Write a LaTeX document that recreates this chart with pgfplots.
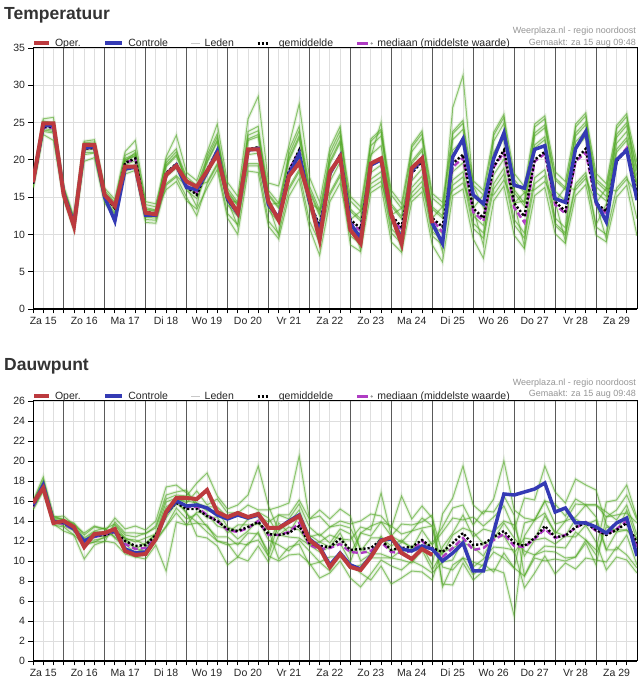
\documentclass[border=0pt]{standalone}
\usepackage{fontspec}
\setmainfont{Liberation Sans}
\usepackage{pgfplots}
\usepackage{pgfplotstable}
\pgfplotsset{compat=1.18}
\definecolor{opercol}{RGB}{188,58,62}
\definecolor{ctrlcol}{RGB}{52,58,180}
\definecolor{memcol}{RGB}{80,168,35}
\definecolor{medcol}{RGB}{175,60,195}
\definecolor{gridlight}{RGB}{222,222,222}
\definecolor{daycol}{RGB}{90,90,90}
\definecolor{txtgray}{RGB}{150,150,150}
\definecolor{titlecol}{RGB}{51,51,51}
\definecolor{ledencol}{RGB}{200,200,200}

% ---------------- Temperatuur ----------------
\pgfplotstableread{
i oper ctrl mean med
0 17.0 17.0 16.8 16.8
1 24.9 24.6 24.4 24.3
2 24.9 24.6 24.4 24.3
3 15.3 15.5 15.6 15.6
4 11.1 11.3 11.5 11.5
5 22.0 21.6 21.5 21.5
6 22.0 21.8 21.6 21.6
7 15.3 15.0 15.2 15.1
8 13.8 11.8 13.5 13.8
9 19.1 18.8 19.6 19.6
10 19.1 19.0 20.2 20.1
11 12.9 12.6 13.0 12.9
12 12.7 12.6 12.8 12.8
13 18.0 18.0 18.2 18.2
14 19.2 19.3 19.5 19.4
15 17.1 16.3 16.4 16.6
16 16.4 16.0 15.3 15.6
17 18.5 18.3 18.6 18.5
18 20.7 21.2 21.3 21.1
19 15.1 14.8 14.6 14.6
20 12.9 12.8 12.9 12.9
21 21.4 21.3 21.4 21.3
22 21.4 21.5 21.7 21.6
23 14.4 14.0 14.0 14.1
24 11.9 12.2 12.3 12.2
25 17.8 18.0 18.5 18.6
26 19.6 20.8 21.3 21.2
27 14.9 14.5 14.3 14.3
28 9.3 10.3 11.2 10.8
29 18.4 18.2 18.0 18.1
30 20.4 20.5 20.7 20.6
31 10.6 11.5 12.0 11.6
32 8.8 9.5 10.8 10.5
33 19.5 19.3 19.2 19.3
34 20.2 20.0 20.3 20.2
35 12.6 12.5 12.6 12.4
36 8.8 9.3 11.0 10.6
37 18.9 18.5 18.2 18.3
38 20.2 20.2 19.8 19.9
39 11.5 11.5 12.2 12.0
40 nan 8.8 11.0 10.3
41 nan 20.4 19.5 19.0
42 nan 22.8 20.7 20.3
43 nan 15.3 13.5 13.0
44 nan 14.1 12.2 11.8
45 nan 20.2 19.1 19.0
46 nan 23.6 21.3 21.0
47 nan 16.6 14.2 13.6
48 nan 16.2 12.4 11.6
49 nan 21.4 20.0 19.8
50 nan 21.9 21.1 20.8
51 nan 14.8 14.4 14.0
52 nan 14.3 13.1 12.8
53 nan 21.5 20.0 19.8
54 nan 23.8 21.5 21.0
55 nan 14.4 14.2 14.0
56 nan 11.7 13.1 12.8
57 nan 20.0 19.8 19.9
58 nan 21.3 21.4 21.6
59 nan 14.6 15.5 15.0
}\tempmain

\pgfplotstableread{
i m1 m2 m3 m4 m5 m6 m7 m8 m9 m10
0 17.4 16.2 17.0 16.5 16.8 17.0 16.7 17.2 16.4 16.9
1 25.2 23.4 24.7 24.0 25.5 24.6 24.2 25.0 23.8 24.6
2 25.0 22.6 24.9 23.8 25.7 24.3 24.0 24.8 23.6 24.8
3 16.4 14.8 15.9 15.2 15.6 15.8 15.4 16.2 15.0 15.8
4 12.3 10.6 11.8 11.1 11.5 11.8 11.3 12.1 10.9 11.7
5 22.5 19.8 21.9 21.0 21.7 21.8 21.3 22.3 20.7 21.8
6 22.7 20.3 22.0 21.0 21.8 22.0 21.4 22.4 20.9 21.7
7 16.2 14.2 15.6 14.7 15.2 15.5 15.0 15.9 14.5 15.4
8 14.7 12.3 14.0 12.9 13.5 13.9 13.3 14.3 12.7 13.7
9 21.1 18.1 20.2 18.8 19.8 20.0 19.3 20.6 18.5 19.9
10 22.6 18.6 20.8 19.4 21.0 20.6 19.9 21.3 19.1 20.5
11 14.4 11.6 13.6 12.3 13.0 13.4 12.7 14.0 12.0 13.3
12 14.1 11.5 13.3 12.2 12.8 13.2 12.5 13.7 11.9 13.1
13 19.6 16.6 20.0 19.3 20.4 16.0 16.8 18.2 17.7 19.1
14 21.1 17.7 21.5 20.7 23.3 17.1 17.9 19.5 18.9 20.5
15 17.7 15.0 16.4 17.4 18.3 14.5 16.4 16.4 15.9 17.2
16 16.6 12.5 13.7 16.3 17.2 13.4 16.6 15.3 14.8 16.1
17 20.2 16.8 20.6 19.8 21.0 16.2 17.0 18.6 18.0 19.6
18 23.1 19.3 23.5 22.6 24.8 18.7 19.5 21.3 20.6 22.4
19 16.2 12.8 14.6 15.8 17.0 12.2 14.6 14.6 14.0 15.6
20 14.3 11.3 11.1 14.0 15.1 10.0 14.3 12.9 12.4 13.8
21 23.3 19.2 23.8 22.8 25.5 18.5 19.5 21.4 20.7 22.6
22 23.9 19.2 24.5 23.4 28.5 18.3 19.5 21.7 20.9 23.1
23 15.9 11.8 14.0 15.4 16.9 11.1 14.0 14.0 13.3 15.2
24 14.2 10.1 9.9 13.7 16.5 9.4 14.2 12.3 11.6 13.5
25 20.7 16.0 21.3 20.2 21.9 15.1 16.3 18.5 17.7 19.9
26 23.9 18.4 24.5 23.2 27.5 17.5 18.7 21.3 20.3 22.9
27 16.5 11.8 14.3 16.0 17.7 10.9 14.3 14.3 13.5 15.7
28 13.3 8.9 8.6 12.8 14.3 7.2 13.3 11.2 10.4 12.5
29 20.4 15.3 21.0 19.8 21.6 14.4 15.6 18.0 17.1 19.5
30 23.3 17.8 23.9 22.6 24.5 16.9 18.1 20.7 19.7 22.3
31 15.1 8.6 12.0 11.2 13.1 10.3 12.0 14.5 13.4 9.8
32 13.7 7.7 7.9 10.0 11.8 9.2 13.1 13.1 12.1 8.7
33 22.5 15.6 22.8 18.3 20.4 17.4 16.2 21.9 20.7 16.8
34 23.8 16.5 24.1 19.3 25.0 18.4 17.1 23.2 21.9 17.7
35 15.9 9.0 12.6 11.7 13.8 10.8 12.6 15.3 14.1 10.2
36 14.1 7.6 7.9 10.2 12.1 9.3 13.5 13.5 12.4 8.8
37 21.7 14.4 22.0 17.2 19.5 16.3 15.0 21.1 19.8 15.6
38 23.5 15.7 23.9 18.8 21.2 17.8 16.4 22.9 21.5 17.1
39 15.5 8.6 12.2 11.3 13.4 10.4 12.2 14.9 13.7 9.8
40 14.3 6.3 7.7 10.1 12.2 9.2 13.7 13.7 12.5 8.6
41 23.5 15.2 23.8 18.4 27.0 17.3 15.9 22.7 21.3 16.6
42 24.9 16.1 25.3 19.6 31.3 18.4 16.9 24.1 22.6 17.7
43 17.2 9.4 13.5 12.5 16.5 11.5 13.5 16.6 15.2 10.8
44 15.9 6.8 8.5 11.2 13.6 10.2 15.3 15.3 13.9 9.5
45 23.3 14.5 23.7 18.0 20.6 16.8 15.3 22.5 21.0 16.1
46 25.7 16.5 26.1 20.1 22.9 18.9 17.3 24.9 23.3 18.1
47 18.2 9.9 14.2 14.2 15.6 12.0 14.2 17.4 16.0 11.3
48 16.4 8.1 8.4 14.5 13.8 10.2 15.6 15.6 14.2 9.5
49 24.4 15.2 24.8 23.2 21.6 17.6 16.0 23.6 22.0 16.8
50 25.5 16.3 25.9 24.3 22.7 18.7 17.1 24.7 23.1 17.9
51 18.4 10.1 14.4 17.3 15.8 12.2 14.4 17.6 11.2 11.5
52 17.1 8.8 9.1 16.0 14.5 10.9 16.3 16.3 9.9 10.2
53 24.4 15.2 24.8 23.2 21.6 22.4 16.0 23.6 16.4 16.8
54 25.9 16.7 26.3 24.7 23.1 23.9 17.5 25.1 17.9 18.3
55 18.2 9.9 14.2 17.1 15.6 16.4 14.2 17.4 11.0 11.3
56 16.8 9.0 9.4 15.8 14.5 15.1 16.2 16.2 10.0 14.1
57 24.2 15.0 24.6 23.0 21.4 22.2 15.8 23.4 16.2 21.0
58 25.8 16.6 26.2 24.6 23.0 23.8 17.4 25.0 17.8 22.6
59 19.7 9.8 15.5 18.5 17.0 17.8 15.5 18.9 12.1 16.6
}\tempmem

% ---------------- Dauwpunt ----------------
\pgfplotstableread{
i oper ctrl mean med
0 15.8 15.6 15.5 15.4
1 17.3 17.6 17.5 17.4
2 13.8 13.9 14.0 13.9
3 14.0 13.9 13.8 13.7
4 13.4 13.2 13.2 13.1
5 11.4 12.0 12.0 11.9
6 12.7 12.5 12.5 12.4
7 12.8 12.8 12.6 12.6
8 13.2 13.0 13.0 12.9
9 11.0 11.2 12.0 11.7
10 10.6 10.8 11.5 11.2
11 10.7 10.9 11.6 11.3
12 12.2 12.2 12.6 12.4
13 14.9 14.8 14.8 14.7
14 16.3 16.0 15.8 16.0
15 16.3 15.5 15.2 15.4
16 16.2 15.6 15.2 15.4
17 17.1 15.3 14.5 14.6
18 14.9 14.6 14.0 14.0
19 14.4 14.2 13.2 13.1
20 14.8 14.6 13.0 12.9
21 14.4 14.3 13.4 13.3
22 14.7 14.6 13.9 14.0
23 13.3 13.3 12.7 12.6
24 13.3 13.3 12.6 12.6
25 13.9 14.0 12.8 12.9
26 14.5 14.6 13.5 13.8
27 12.1 12.2 11.8 11.6
28 11.3 11.4 11.5 11.2
29 9.4 9.6 11.4 11.3
30 10.7 10.8 12.2 11.7
31 9.4 9.6 11.1 10.9
32 9.1 9.2 11.2 10.8
33 10.4 10.5 11.3 11.0
34 12.0 12.1 12.1 11.9
35 12.4 12.2 11.1 10.9
36 10.8 11.2 11.3 10.8
37 10.2 11.0 11.4 11.0
38 11.2 11.5 12.1 12.0
39 10.6 11.2 11.3 11.1
40 nan 10.0 10.9 10.4
41 nan 10.8 11.8 11.3
42 nan 11.8 12.8 12.3
43 nan 9.0 11.6 11.1
44 nan 9.0 11.7 11.3
45 nan 12.9 12.4 12.1
46 nan 16.7 13.0 12.7
47 nan 16.6 11.8 11.5
48 nan 16.9 11.5 11.4
49 nan 17.2 12.3 12.2
50 nan 17.8 13.5 13.2
51 nan 14.9 12.4 12.3
52 nan 15.3 12.5 12.6
53 nan 13.8 13.4 13.3
54 nan 13.8 13.8 13.9
55 nan 13.4 13.1 13.0
56 nan 12.8 12.6 12.7
57 nan 13.8 13.1 13.2
58 nan 14.3 13.8 14.0
59 nan 10.5 11.8 11.4
}\dewmain

\pgfplotstableread{
i m1 m2 m3 m4 m5 m6 m7 m8 m9 m10
0 16.0 15.1 15.6 15.3 15.5 15.7 15.5 15.9 15.3 15.5
1 18.4 17.0 17.8 17.1 17.6 17.8 17.3 18.1 17.2 17.7
2 14.4 13.7 14.2 13.9 13.9 14.5 13.8 14.4 13.6 14.2
3 14.5 13.0 14.2 13.5 14.0 14.1 13.7 14.1 13.4 13.9
4 13.6 12.6 13.3 13.1 13.1 13.7 13.0 13.8 12.6 13.5
5 12.8 10.2 12.1 11.7 12.0 12.3 12.0 12.6 11.6 11.9
6 13.5 11.6 12.9 11.9 12.7 13.0 12.1 13.4 11.9 12.8
7 13.2 12.0 12.9 12.4 12.4 13.3 12.3 13.2 11.9 12.8
8 13.7 11.8 14.3 12.8 13.6 12.3 13.3 12.4 13.9 12.9
9 12.6 10.7 13.2 12.0 12.3 11.3 12.2 11.7 12.8 12.3
10 12.4 10.4 13.5 11.3 11.9 10.4 12.1 10.8 12.8 11.2
11 12.8 10.2 13.1 10.9 12.3 10.7 11.6 11.4 12.7 11.8
12 13.3 11.6 14.0 12.5 12.7 12.0 12.7 12.1 13.5 12.7
13 16.2 9.0 17.4 14.3 15.9 13.4 15.4 13.5 16.6 14.6
14 16.6 13.9 17.6 15.8 16.3 14.8 16.1 15.3 16.9 16.3
15 16.5 13.6 16.8 14.9 15.8 13.6 16.0 14.2 17.1 14.7
16 17.8 13.8 15.8 12.5 17.0 14.9 15.8 14.7 15.4 13.9
17 18.8 13.6 15.0 12.3 15.6 14.7 15.4 13.4 14.3 12.9
18 16.5 12.0 15.1 11.5 16.2 13.5 15.4 12.4 14.4 12.0
19 15.2 11.6 13.4 9.6 14.8 13.2 14.4 12.4 12.8 11.8
20 15.6 11.8 13.0 10.4 14.8 12.2 14.8 11.6 13.6 10.4
21 16.6 11.6 14.2 10.0 15.6 13.0 14.2 12.8 13.6 11.8
22 19.5 12.9 14.5 11.5 15.1 14.1 14.9 12.7 13.7 12.1
23 15.5 10.5 13.9 9.9 15.1 12.1 14.3 10.9 13.1 10.5
24 13.0 10.0 14.6 12.6 15.4 11.6 12.6 14.6 10.2 13.8
25 13.8 10.6 14.6 12.4 15.8 11.0 13.4 14.2 11.4 12.8
26 15.1 10.7 16.1 12.3 20.5 12.1 13.1 15.7 11.7 14.5
27 12.4 9.8 14.2 11.6 14.2 11.0 11.6 13.4 9.6 12.6
28 12.7 8.3 14.5 10.9 15.1 9.9 11.9 12.5 9.9 11.9
29 11.8 8.8 13.4 11.4 14.2 10.4 11.4 13.4 9.0 12.6
30 13.2 10.0 14.0 11.8 15.2 10.4 12.8 13.6 10.8 12.2
31 12.7 8.3 13.7 9.9 14.5 9.7 10.7 13.3 9.3 12.1
32 10.0 7.4 14.0 12.8 11.0 8.8 12.8 11.2 9.6 13.4
33 10.7 8.7 14.7 12.5 12.3 8.1 13.5 10.7 10.3 13.1
34 10.7 10.1 14.5 13.9 12.3 9.5 13.9 12.5 10.3 16.8
35 10.3 9.5 13.3 12.5 11.5 7.7 13.5 10.9 10.3 12.5
36 11.1 9.1 16.5 11.9 12.1 8.3 12.7 11.9 10.1 13.7
37 10.2 10.0 14.2 13.0 11.2 9.0 13.0 11.4 9.8 13.6
38 11.5 9.5 15.5 13.3 13.1 8.9 14.3 11.5 11.1 13.9
39 9.6 8.8 14.3 13.5 11.6 8.1 13.5 11.8 9.1 14.6
40 14.7 9.9 10.7 7.7 12.9 11.4 9.4 13.4 10.9 7.4
41 16.3 10.1 12.6 7.6 14.3 12.8 9.1 15.3 11.3 9.6
42 19.5 12.1 13.3 9.8 14.1 14.6 10.3 15.6 11.8 10.3
43 15.6 9.4 12.9 8.1 14.4 12.4 9.9 13.6 11.4 8.6
44 14.7 10.2 11.7 9.0 13.5 13.2 9.5 15.0 10.5 9.7
45 16.2 11.4 12.2 9.2 14.4 12.9 10.9 14.9 12.4 8.9
46 20.0 11.3 13.8 8.8 15.5 14.0 10.3 16.5 12.5 10.8
47 15.1 11.1 12.3 4.5 13.1 13.6 9.3 14.6 10.8 9.3
48 14.3 7.3 11.0 12.5 16.3 10.5 13.8 8.5 12.3 8.5
49 14.1 8.8 10.6 14.1 16.1 12.1 14.1 10.6 12.1 10.3
50 16.0 10.5 11.5 14.8 19.5 12.3 16.0 11.0 14.5 10.0
51 15.7 8.7 11.4 12.7 16.9 11.7 13.7 10.9 12.9 10.2
52 14.5 9.8 11.3 14.0 15.8 12.5 14.0 10.3 12.5 10.0
53 16.2 9.2 12.9 14.4 18.2 12.4 15.7 10.4 14.2 10.4
54 15.6 10.3 12.1 15.6 17.6 13.6 15.6 12.1 13.6 11.8
55 15.6 10.1 11.1 14.4 17.1 11.9 15.6 10.6 14.1 9.6
56 14.9 9.9 15.9 11.1 13.6 9.1 14.4 13.4 11.1 14.4
57 14.1 11.4 16.1 12.9 12.9 10.4 15.1 13.1 11.1 14.6
58 15.6 10.6 17.6 13.1 15.1 10.1 16.6 13.1 12.6 14.8
59 12.6 9.3 14.3 11.8 12.1 8.8 14.1 12.3 9.6 13.8
}\dewmem

\pgfplotsset{
  panel/.style={
    scale only axis, width=604pt,
    xmin=0, xmax=59,
    clip mode=individual,
    axis line style={black, line width=1pt},
    tick align=outside, xtick pos=left, ytick pos=left,
    xtick={1,5,...,57},
    xticklabels={Za 15,Zo 16,Ma 17,Di 18,Wo 19,Do 20,Vr 21,Za 22,Zo 23,Ma 24,Di 25,Wo 26,Do 27,Vr 28,Za 29},
    minor xtick={0,2,...,58},
    xmajorgrids, xminorgrids, ymajorgrids,
    major grid style={gridlight, line width=0.9pt},
    minor grid style={gridlight, line width=0.9pt},
    major tick length=4.5pt, minor tick length=4.5pt,
    tick style={black, line width=0.8pt},
    extra x ticks={3,7,...,55},
    extra x tick labels={},
    extra x tick style={grid=major, major grid style={daycol, line width=0.9pt}},
    tick label style={font=\fontsize{10.5}{12}\selectfont, text=black!85},
    /pgf/number format/assume math mode=true,
    legend columns=-1,
    legend cell align=left,
    legend style={at={(0,1)}, anchor=south west, xshift=-1pt, yshift=0pt,
      draw=none, fill=none, inner sep=0pt, outer sep=0pt,
      font=\fontsize{10.5}{12}\selectfont,
      nodes={inner sep=0pt, text=black!85},
      /tikz/every odd column/.append style={column sep=4pt},
      /tikz/every even column/.append style={column sep=22.7pt}},
  },
  memberglow/.style={memcol, opacity=0.13, line width=3.2pt, forget plot},
  member/.style={memcol, opacity=0.6, line width=1pt, forget plot},
  meanline/.style={black, line width=2.4pt, dash pattern=on 2.2pt off 2pt, forget plot},
  medline/.style={medcol, line width=2.4pt, dash pattern=on 6pt off 3pt, forget plot},
  ctrlline/.style={ctrlcol, line width=3.5pt, forget plot},
  operline/.style={opercol, line width=4pt, forget plot},
}

\newcommand{\panellegend}{%
  \addlegendimage{legend image code/.code={\draw[opercol,line width=4pt] (0pt,0pt)--(15pt,0pt);}}
  \addlegendentry{Oper.}
  \addlegendimage{legend image code/.code={\draw[ctrlcol,line width=4pt] (0pt,0pt)--(17pt,0pt);}}
  \addlegendentry{Controle\hspace{10.6pt}}
  \addlegendimage{legend image code/.code={\draw[ledencol,line width=0.9pt] (0pt,0pt)--(9pt,0pt);}}
  \addlegendentry{Leden}
  \addlegendimage{legend image code/.code={\draw[black,line width=2.2pt,dash pattern=on 2pt off 2pt] (0pt,0pt)--(10pt,0pt); \path (17pt,0pt);}}
  \addlegendentry{gemiddelde}
  \addlegendimage{legend image code/.code={\draw[medcol,line width=2.6pt] (0pt,0pt)--(11pt,0pt); \fill[txtgray] (14.5pt,0pt) circle (0.9pt); \path (16pt,0pt);}}
  \addlegendentry{mediaan (middelste waarde)}
}

\begin{document}
\begin{tikzpicture}[x=1pt,y=1pt]
\fill[white] (0pt,0pt) rectangle (643pt,688pt);

% titles and credits
\node[anchor=west, inner sep=0pt, font=\fontsize{17.5}{20}\selectfont\bfseries, text=titlecol] at (4pt,673pt) {Temperatuur};
\node[anchor=east, inner sep=0pt, font=\fontsize{9}{10}\selectfont, text=txtgray] at (636pt,657pt) {Weerplaza.nl - regio noordoost};
\node[anchor=east, inner sep=0pt, font=\fontsize{9}{10}\selectfont, text=txtgray] at (636pt,645pt) {Gemaakt: za 15 aug 09:48};

\node[anchor=west, inner sep=0pt, font=\fontsize{17.5}{20}\selectfont\bfseries, text=titlecol] at (4pt,322pt) {Dauwpunt};
\node[anchor=east, inner sep=0pt, font=\fontsize{9}{10}\selectfont, text=txtgray] at (636pt,305pt) {Weerplaza.nl - regio noordoost};
\node[anchor=east, inner sep=0pt, font=\fontsize{9}{10}\selectfont, text=txtgray] at (636pt,294pt) {Gemaakt: za 15 aug 09:48};

% ---------- Temperatuur panel ----------
\begin{axis}[panel, at={(33pt,379pt)}, anchor=south west, height=261pt,
  ymin=0, ymax=35, ytick={0,5,...,35}]
  \panellegend
  \pgfplotsinvokeforeach{1,...,10}{
    \addplot[memberglow] table[x=i, y=m#1] {\tempmem};
  }
  \pgfplotsinvokeforeach{1,...,10}{
    \addplot[member] table[x=i, y=m#1] {\tempmem};
  }
  \addplot[medline] table[x=i, y=med] {\tempmain};
  \addplot[meanline] table[x=i, y=mean] {\tempmain};
  \addplot[ctrlline] table[x=i, y=ctrl] {\tempmain};
  \addplot[operline] table[x=i, y=oper] {\tempmain};
  \draw[black, line width=2.5pt] (rel axis cs:0,0) -- (rel axis cs:1,0);
\end{axis}

% ---------- Dauwpunt panel ----------
\begin{axis}[panel, at={(33pt,27pt)}, anchor=south west, height=260pt,
  ymin=0, ymax=26, ytick={0,2,...,26}]
  \panellegend
  \pgfplotsinvokeforeach{1,...,10}{
    \addplot[memberglow] table[x=i, y=m#1] {\dewmem};
  }
  \pgfplotsinvokeforeach{1,...,10}{
    \addplot[member] table[x=i, y=m#1] {\dewmem};
  }
  \addplot[medline] table[x=i, y=med] {\dewmain};
  \addplot[meanline] table[x=i, y=mean] {\dewmain};
  \addplot[ctrlline] table[x=i, y=ctrl] {\dewmain};
  \addplot[operline] table[x=i, y=oper] {\dewmain};
  \draw[black, line width=2.5pt] (rel axis cs:0,0) -- (rel axis cs:1,0);
\end{axis}
\end{tikzpicture}
\end{document}
